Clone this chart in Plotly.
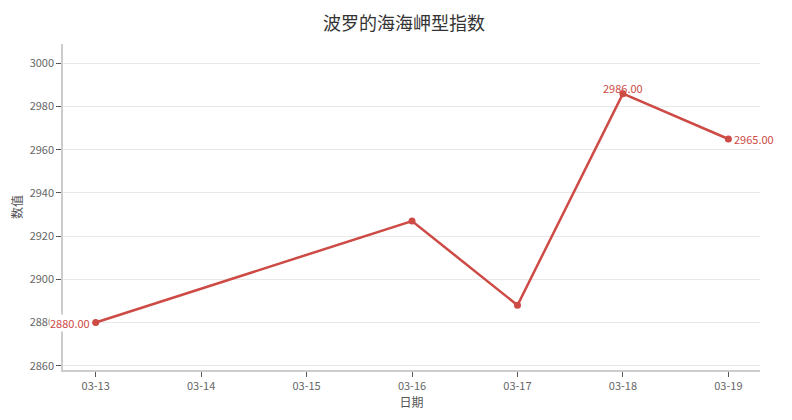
import plotly.graph_objects as go

# dates shown on the axis, and the days that have a value
all_dates = ['03-13', '03-14', '03-15', '03-16', '03-17', '03-18', '03-19']
dates = ['03-13', '03-16', '03-17', '03-18', '03-19']
values = [2880, 2927, 2888, 2986, 2965]

# only first, highest and last points get a label
label_idx = [0, 3, 4]

red = '#cd4a45'
font = 'Noto Sans CJK SC, sans-serif'

fig = go.Figure(go.Scatter(
    x=dates,
    y=values,
    mode='lines+markers',
    line=dict(color=red, width=2.5),
    marker=dict(size=7, color=red),
    cliponaxis=False,
))

# label placement: (xanchor, yanchor, xshift, yshift)
placement = {0: ('right', 'middle', -5, 0),
             3: ('center', 'bottom', 0, -3),
             4: ('left', 'middle', 5, 0)}
for i in label_idx:
    xa, ya, xs, ys = placement[i]
    fig.add_annotation(
        x=dates[i], y=values[i], text=f'{values[i]:.2f}',
        showarrow=False, xanchor=xa, yanchor=ya, xshift=xs, yshift=ys,
        bgcolor='white' if i == 0 else 'rgba(0,0,0,0)', borderpad=0,
        font=dict(color=red, size=11, family=font),
    )

# the page adds an 8px body margin, so margins are trimmed by 8
fig.update_layout(
    width=792, height=420,
    margin=dict(l=55, r=40, t=36, b=58, autoexpand=False),
    paper_bgcolor='white',
    plot_bgcolor='white',
    showlegend=False,
    font=dict(family=font, color='#666666', size=11),
    title=dict(text='波罗的海海岬型指数', x=0.5, xanchor='center', y=0.978, yanchor='top',
               font=dict(size=18, color='#333333', family=font)),
    xaxis=dict(
        type='category',
        categoryorder='array', categoryarray=all_dates,
        range=[-0.31, 6.3],
        title=dict(text='日期', standoff=4, font=dict(size=12, color='#555555')),
        showline=True, linecolor='#cccccc', linewidth=1.5,
        ticks='outside', ticklen=5, tickcolor='#555555',
        showgrid=False, zeroline=False, automargin=False,
    ),
    yaxis=dict(
        range=[2858, 3009],
        tickvals=[2860, 2880, 2900, 2920, 2940, 2960, 2980, 3000],
        title=dict(text='数值', standoff=8, font=dict(size=12, color='#555555')),
        showline=True, linecolor='#cccccc', linewidth=1.5,
        ticks='outside', ticklen=5, tickcolor='#555555',
        showgrid=True, gridcolor='#e8e8e8', zeroline=False, automargin=False,
    ),
)

fig.write_html('out.html')
